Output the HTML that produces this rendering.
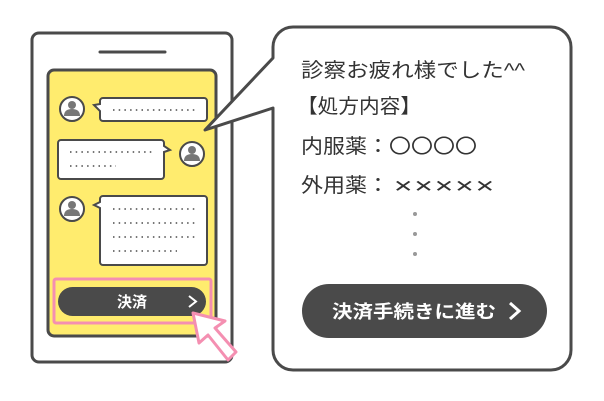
<!DOCTYPE html>
<html><head><meta charset="utf-8"><style>
body{margin:0;background:#fff;}
svg{display:block}
text{font-family:"Liberation Sans","Noto Sans CJK JP",sans-serif;}
.j{font-family:"Noto Sans CJK JP",sans-serif;}
</style></head><body>
<svg width="604" height="401" viewBox="0 0 604 401" xmlns="http://www.w3.org/2000/svg">
<!-- phone -->
<rect x="32" y="33" width="200" height="329" rx="7" fill="#fff" stroke="#4a4a4a" stroke-width="3"/>
<line x1="100" y1="52" x2="165" y2="52" stroke="#4a4a4a" stroke-width="3" stroke-linecap="round"/>
<rect x="48" y="70" width="168" height="266" rx="6" fill="#ffec6e" stroke="#4a4a4a" stroke-width="3"/>
<!-- bubble1 -->
<circle cx="72" cy="109" r="12" fill="#fff" stroke="#4a4a4a" stroke-width="2"/>
<circle cx="72" cy="105" r="4" fill="#777"/><path d="M64 116 Q64 109 72 109 Q80 109 80 116Z" fill="#777"/>
<path d="M103 98 H204 a3 3 0 0 1 3 3 V118 a3 3 0 0 1 -3 3 H103 a3 3 0 0 1 -3 -3 V111 L94 105 L100 104 V101 a3 3 0 0 1 3 -3Z" fill="#fff" stroke="#4a4a4a" stroke-width="2"/>
<line x1="113" y1="110" x2="195" y2="110" stroke="#777" stroke-width="2" stroke-dasharray="1.5 4.2"/>
<!-- bubble2 -->
<circle cx="192" cy="154" r="12" fill="#fff" stroke="#4a4a4a" stroke-width="2"/>
<circle cx="192" cy="150" r="4" fill="#777"/><path d="M184 161 Q184 154 192 154 Q200 154 200 161Z" fill="#777"/>
<path d="M61 140 H161 a3 3 0 0 1 3 3 V146 L170 150 L164 152 V176 a3 3 0 0 1 -3 3 H61 a3 3 0 0 1 -3 -3 V143 a3 3 0 0 1 3 -3Z" fill="#fff" stroke="#4a4a4a" stroke-width="2"/>
<line x1="70" y1="152" x2="152" y2="152" stroke="#777" stroke-width="2" stroke-dasharray="1.5 4.2"/>
<line x1="70" y1="166" x2="116" y2="166" stroke="#777" stroke-width="2" stroke-dasharray="1.5 4.2"/>
<!-- bubble3 -->
<circle cx="72" cy="209" r="12" fill="#fff" stroke="#4a4a4a" stroke-width="2"/>
<circle cx="72" cy="205" r="4" fill="#777"/><path d="M64 216 Q64 209 72 209 Q80 209 80 216Z" fill="#777"/>
<path d="M103 196 H204 a3 3 0 0 1 3 3 V262 a3 3 0 0 1 -3 3 H103 a3 3 0 0 1 -3 -3 V208 L94 205 L100 202 V199 a3 3 0 0 1 3 -3Z" fill="#fff" stroke="#4a4a4a" stroke-width="2"/>
<line x1="113" y1="209" x2="195" y2="209" stroke="#777" stroke-width="2" stroke-dasharray="1.5 4.2"/>
<line x1="113" y1="223" x2="195" y2="223" stroke="#777" stroke-width="2" stroke-dasharray="1.5 4.2"/>
<line x1="113" y1="237" x2="195" y2="237" stroke="#777" stroke-width="2" stroke-dasharray="1.5 4.2"/>
<line x1="113" y1="251" x2="177" y2="251" stroke="#777" stroke-width="2" stroke-dasharray="1.5 4.2"/>
<!-- pay button -->
<rect x="54" y="279" width="157" height="44" rx="2" fill="#ffec6e" stroke="#f48fb1" stroke-width="3"/>
<rect x="58" y="287" width="148" height="29" rx="14.5" fill="#4a4a4a"/>
<text x="132" y="307" font-size="15" font-weight="bold" fill="#fff" text-anchor="middle">決済</text>
<path d="M189 296 L196 301.5 L189 307" fill="none" stroke="#fff" stroke-width="2"/>
<!-- cursor -->
<path d="M193 313 L225 321 L215 328 L236 352 L228 360 L208 335 L199 343 Z" fill="#fff" stroke="#f48fb1" stroke-width="3" stroke-linejoin="round"/>
<!-- big bubble -->
<path d="M293 27 H551 a20 20 0 0 1 20 20 V350 a20 20 0 0 1 -20 20 H293 a20 20 0 0 1 -20 -20 V108 L205 130 L273 58 V47 a20 20 0 0 1 20 -20Z" fill="#fff" stroke="#4a4a4a" stroke-width="3" stroke-linejoin="round"/>
<g font-size="20" fill="#333" class="j">
<text x="301" y="77" textLength="224" lengthAdjust="spacingAndGlyphs">診察お疲れ様でした^^</text>
<text x="297" y="113" textLength="124" lengthAdjust="spacingAndGlyphs">【処方内容】</text>
<text x="301" y="153" textLength="176" lengthAdjust="spacingAndGlyphs">内服薬：〇〇〇〇</text>
<text x="301" y="192" textLength="88" lengthAdjust="spacingAndGlyphs">外用薬：</text>
</g>
<text x="393" y="192" font-size="17" fill="#333" style="font-family:'DejaVu Sans',sans-serif" textLength="102" lengthAdjust="spacingAndGlyphs">✕✕✕✕✕</text>
<circle cx="415" cy="214" r="2" fill="#999"/>
<circle cx="415" cy="234" r="2" fill="#999"/>
<circle cx="415" cy="254" r="2" fill="#999"/>
<rect x="302" y="284" width="245" height="54" rx="27" fill="#4a4a4a"/>
<text x="332" y="318" font-size="18" font-weight="bold" fill="#fff" class="j" textLength="164" lengthAdjust="spacingAndGlyphs">決済手続きに進む</text>
<path d="M510 303 L519 311 L510 319" fill="none" stroke="#fff" stroke-width="3"/>
</svg>
</body></html>
